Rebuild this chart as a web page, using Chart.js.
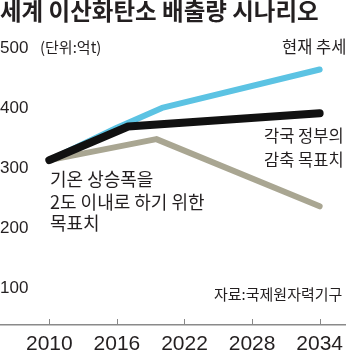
<!DOCTYPE html>
<html>
<head>
<meta charset="utf-8">
<script src="https://cdn.jsdelivr.net/npm/chart.js@4"></script>
<style>
  html, body { margin: 0; padding: 0; background: #fff; }
  #wrap { width: 350px; height: 350px; position: relative; }
</style>
</head>
<body>
<div id="wrap"><canvas id="chart"></canvas></div>
<script>
// data (억t)
const trendYears   = [2010, 2016, 2020, 2034];
const trendValues  = [314, 368, 401, 465];
const govYears     = [2010, 2017, 2034];
const govValues    = [314, 370, 392];
const targetYears  = [2010, 2019.5, 2034];
const targetValues = [314, 349, 237];
const xTicks = [2010, 2016, 2022, 2028, 2034];
const yTicks = [100, 200, 300, 400, 500];

const KR = '"Noto Sans CJK KR", "Noto Sans", sans-serif';
const NUM = '"Liberation Sans Narrow", "Liberation Sans", Arial, sans-serif';

const toPts = (xs, ys) => xs.map((x, i) => ({ x: x, y: ys[i] }));

// title, notes and upward tick marks
const notes = {
  id: 'notes',
  afterDraw(chart) {
    const ctx = chart.ctx;
    const xs = chart.scales.x;
    const bottom = chart.chartArea.bottom;
    ctx.save();
    ctx.strokeStyle = '#888';
    ctx.lineWidth = 1;
    xs.ticks.forEach(t => {
      const px = Math.round(xs.getPixelForValue(t.value)) + 0.5;
      ctx.beginPath();
      ctx.moveTo(px, bottom);
      ctx.lineTo(px, bottom - 6);
      ctx.stroke();
    });

    ctx.fillStyle = '#231f20';
    ctx.textBaseline = 'middle';
    ctx.textAlign = 'left';
    ctx.font = 'bold 23.5px ' + KR;
    ctx.fillText('세계 이산화탄소 배출량 시나리오', 0, 11);

    ctx.font = '15px ' + KR;
    ctx.fillText('(단위:억t)', 40, 47);
    ctx.fillText('자료:국제원자력기구', 214, 294);

    ctx.font = '16.5px ' + KR;
    ctx.fillText('현재 추세', 282, 47);
    ctx.fillText('각국 정부의', 264, 136);
    ctx.fillText('감축 목표치', 264, 160);

    ctx.font = '18px ' + KR;
    ctx.fillText('기온 상승폭을', 50, 179);
    ctx.fillText('2도 이내로 하기 위한', 50, 202);
    ctx.fillText('목표치', 50, 223);
    ctx.restore();
  }
};

new Chart(document.getElementById('chart'), {
  type: 'line',
  data: {
    datasets: [
      { label: '각국 정부의 감축 목표치', data: toPts(govYears, govValues),
        borderColor: '#111111', borderWidth: 8, order: 0 },
      { label: '현재 추세', data: toPts(trendYears, trendValues),
        borderColor: '#5cc3e3', borderWidth: 6, order: 1 },
      { label: '기온 상승폭을 2도 이내로 하기 위한 목표치', data: toPts(targetYears, targetValues),
        borderColor: '#a9a692', borderWidth: 6, order: 2 }
    ]
  },
  options: {
    responsive: true,
    maintainAspectRatio: false,
    animation: false,
    events: [],
    elements: {
      point: { radius: 0 },
      line: { tension: 0, borderCapStyle: 'round', borderJoinStyle: 'round', fill: false }
    },
    layout: { padding: { top: 40, left: 0, right: 0, bottom: 0 } },
    plugins: { legend: { display: false }, tooltip: { enabled: false }, title: { display: false } },
    scales: {
      x: {
        type: 'linear',
        min: 2005.62, max: 2036.28,
        afterBuildTicks: s => { s.ticks = xTicks.map(v => ({ value: v })); },
        afterFit: s => { s.height = 25; },
        grid: { drawOnChartArea: false, drawTicks: false },
        border: { display: true, color: '#8a8a8a', width: 1.5 },
        ticks: { padding: 7, color: '#231f20', font: { family: NUM, size: 21 },
                 callback: v => String(v), maxRotation: 0 }
      },
      y: {
        min: 39.2, max: 514.2,
        afterBuildTicks: s => { s.ticks = yTicks.map(v => ({ value: v })); },
        afterFit: s => { s.width = 0; },
        grid: { display: false },
        border: { display: false },
        ticks: { mirror: true, padding: 0, color: '#231f20', font: { family: NUM, size: 17 } }
      }
    }
  },
  plugins: [notes]
});
</script>
</body>
</html>
